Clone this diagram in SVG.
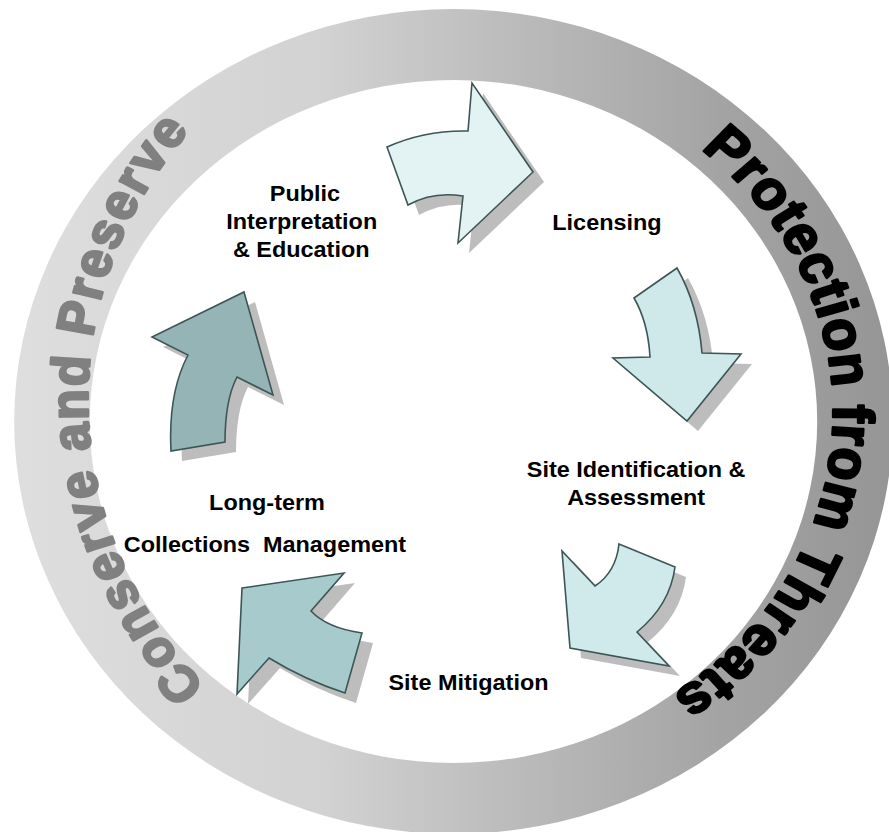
<svg xmlns="http://www.w3.org/2000/svg" xmlns:xlink="http://www.w3.org/1999/xlink" width="889" height="832" viewBox="0 0 889 832">
<defs>
  <linearGradient id="ringGrad" x1="0" y1="0" x2="1" y2="0">
    <stop offset="0" stop-color="#dedede"/>
    <stop offset="0.35" stop-color="#d2d2d2"/>
    <stop offset="0.55" stop-color="#bdbdbd"/>
    <stop offset="0.8" stop-color="#a4a4a4"/>
    <stop offset="1" stop-color="#959595"/>
  </linearGradient>
  <path id="leftArc" d="M 537.1 826.5 A 427 427 0 0 1 537.1 -27.5"/>
  <path id="rightArc" d="M 470 72 A 340 340 0 0 1 470 752"/>
  <style>
    .lbl { font-family: "Liberation Sans", Arial, sans-serif; font-weight: bold; font-size: 22px; fill: #000; text-anchor: middle; }
    .arrow { stroke: #3e5556; stroke-width: 1.6; stroke-linejoin: miter; }
    .shadow { fill: #bdbdbd; stroke: none; }
    .ringtxt { font-family: "Liberation Sans", Arial, sans-serif; font-weight: bold; stroke-linejoin: round; }
  </style>
</defs>
<rect x="0" y="0" width="889" height="832" fill="#ffffff"/>
<g id="ring" transform="matrix(1.065 0 0 1 -29.48 0)">
  <path d="M 453.5 9 A 412.5 412.5 0 1 1 453.5 834 A 412.5 412.5 0 1 1 453.5 9 Z M 453.5 80 A 341.5 341.5 0 1 0 453.5 763 A 341.5 341.5 0 1 0 453.5 80 Z" fill="url(#ringGrad)" fill-rule="evenodd"/>
  <text class="ringtxt" font-size="50" fill="#808080" stroke="#808080" stroke-width="2.5" letter-spacing="2.5"><textPath xlink:href="#leftArc" href="#leftArc" startOffset="49.2%" text-anchor="middle">Conserve and Preserve</textPath></text>
  <text class="ringtxt" font-size="54" fill="#000" stroke="#000" stroke-width="2.5" letter-spacing="1"><textPath xlink:href="#rightArc" href="#rightArc" startOffset="51.6%" text-anchor="middle">Protection from Threats</textPath></text>
</g>
<g id="connectors">
  <g id="arrow-licensing">
    <path class="shadow" transform="translate(11,10)" d="M 387,147 Q 425,130 468,131 L 472,83 L 533,172 L 458,243 L 463,196 Q 433,191 408,205 Z"/>
    <path class="arrow" fill="#e3f3f4" d="M 387,147 Q 425,130 468,131 L 472,83 L 533,172 L 458,243 L 463,196 Q 433,191 408,205 Z"/>
  </g>
  <g id="arrow-site-id">
    <path class="shadow" transform="translate(11,10)" d="M 634,298 L 677,268 Q 698,305 702,353 L 741,354 L 687,421 L 613,358 L 650,357 Q 648,322 634,298 Z"/>
    <path class="arrow" fill="#cfe8ea" d="M 634,298 L 677,268 Q 698,305 702,353 L 741,354 L 687,421 L 613,358 L 650,357 Q 648,322 634,298 Z"/>
  </g>
  <g id="arrow-mitigation">
    <path class="shadow" transform="translate(11,10)" d="M 619,544 L 675,567 Q 670,605 637,632 L 669,666 L 570,648 L 562,551 L 595,586 Q 616,572 619,544 Z"/>
    <path class="arrow" fill="#d0e9eb" d="M 619,544 L 675,567 Q 670,605 637,632 L 669,666 L 570,648 L 562,551 L 595,586 Q 616,572 619,544 Z"/>
  </g>
  <g id="arrow-collections">
    <path class="shadow" transform="translate(11,10)" d="M 242,588 L 344,573 L 311,611 Q 327,628 362,633 L 345,693 Q 305,680 269,658 L 237,694 Z"/>
    <path class="arrow" fill="#a7cacc" d="M 242,588 L 344,573 L 311,611 Q 327,628 362,633 L 345,693 Q 305,680 269,658 L 237,694 Z"/>
  </g>
  <g id="arrow-public">
    <path class="shadow" transform="translate(11,10)" d="M 244,292 L 273,395 L 237,377 Q 225,400 225,442 L 171,451 Q 168,393 188,355 L 152,337 Z"/>
    <path class="arrow" fill="#95b4b6" d="M 244,292 L 273,395 L 237,377 Q 225,400 225,442 L 171,451 Q 168,393 188,355 L 152,337 Z"/>
  </g>
</g>
<g id="labels" transform="matrix(1.065 0 0 1 -29.48 0)">
  <g id="node-public">
    <text class="lbl" x="314" y="201">Public</text>
    <text class="lbl" x="311" y="229">Interpretation</text>
    <text class="lbl" x="310.5" y="257">&amp; Education</text>
  </g>
  <g id="node-licensing">
    <text class="lbl" x="597.6" y="230">Licensing</text>
  </g>
  <g id="node-site-id">
    <text class="lbl" x="625" y="477">Site Identification &amp;</text>
    <text class="lbl" x="625" y="505">Assessment</text>
  </g>
  <g id="node-mitigation">
    <text class="lbl" x="467.6" y="690">Site Mitigation</text>
  </g>
  <g id="node-collections">
    <text class="lbl" x="278.4" y="510">Long-term</text>
    <text class="lbl" x="276.5" y="552" word-spacing="6">Collections Management</text>
  </g>
</g>
</svg>
